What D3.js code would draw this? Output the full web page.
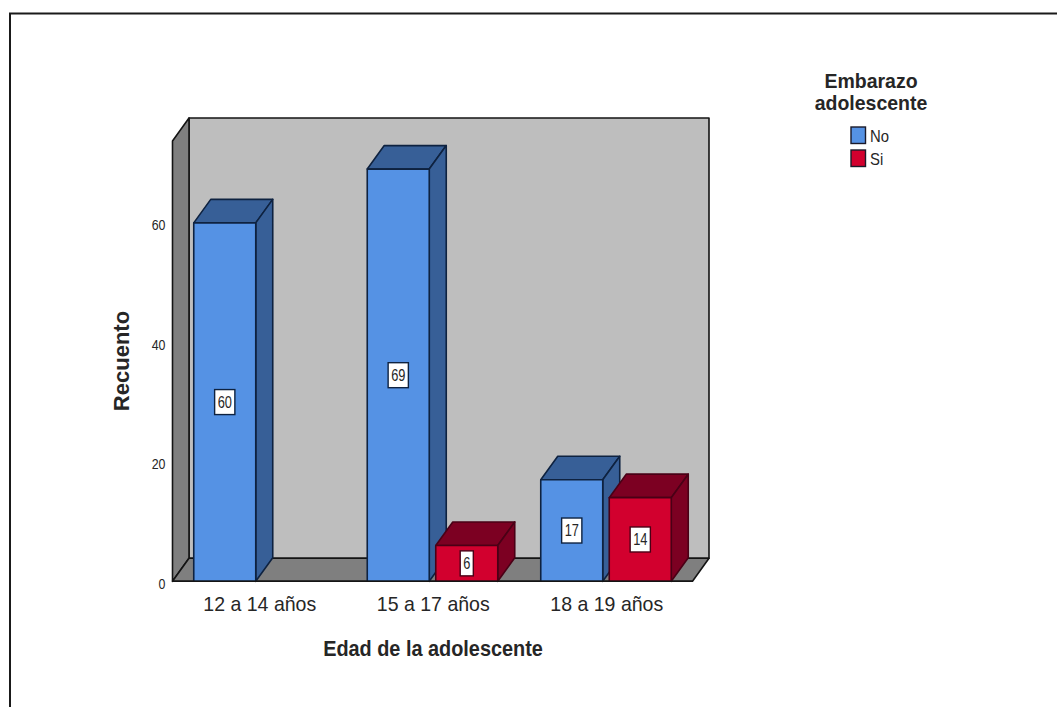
<!DOCTYPE html>
<html>
<head>
<meta charset="utf-8">
<script src="https://cdn.jsdelivr.net/npm/d3@7/dist/d3.min.js"></script>
<style>
html,body{margin:0;padding:0;background:#fff;overflow:hidden}
svg{display:block}
text{font-family:"Liberation Sans",Arial,sans-serif;fill:#262626}
</style>
</head>
<body>
<svg id="chart" width="1057" height="707"></svg>
<script>
// Embarazo adolescente por grupo de edad
const categories = ["12 a 14 años", "15 a 17 años", "18 a 19 años"];
const seriesNames = ["No", "Si"];
const valuesNo = [60, 69, 17];
const valuesSi = [null, 6, 14];
const yTicks = [0, 20, 40, 60];
const yMax = 73.7;

const blue = {front: "#5592E4", side: "#375F97", line: "#0E2240"};
const red = {front: "#D2002E", side: "#7C0022", line: "#4A0016"};
const palette = {No: blue, Si: red};

const svg = d3.select("#chart");

// Narrows text horizontally by a factor, keeping its height
function condense(sel, factor) {
  sel.each(function () {
    this.setAttribute("textLength", this.getComputedTextLength() * factor);
    this.setAttribute("lengthAdjust", "spacingAndGlyphs");
  });
  return sel;
}

// Outer frame: only the top and left edges are visible
svg.append("path").attr("d", "M10,707V13.5H1057")
  .attr("fill", "none").attr("stroke", "#1a1a1a").attr("stroke-width", 2);

const x0 = d3.scaleBand().domain(categories).range([173, 693.5]);
const x1 = d3.scaleBand().domain(seriesNames).range([-66, 64.5]).paddingInner(0.095);
const y = d3.scaleLinear().domain([0, yMax]).range([581.3, 141]);

const wallDx = 16.5, wallDy = -23;
const barDx = 17, barDy = -23.5;
const boxLeft = 172.5, boxRight = 692.5, boxBase = y(0), boxTop = y(yMax);

const poly = pts => "M" + pts.map(p => p.join(",")).join("L") + "Z";
const edge = {stroke: "#141414", "stroke-width": 1.6};
function face(d, fill, line, sw) {
  svg.append("path").attr("d", d).attr("fill", fill)
    .attr("stroke", line).attr("stroke-width", sw).attr("stroke-linejoin", "round");
}

// Chart box: back wall, left wall and floor
face(poly([[boxLeft + wallDx, boxTop + wallDy], [boxRight + wallDx, boxTop + wallDy], [boxRight + wallDx, boxBase + wallDy], [boxLeft + wallDx, boxBase + wallDy]]), "#BEBEBE", edge.stroke, edge["stroke-width"]);
face(poly([[boxLeft, boxTop], [boxLeft + wallDx, boxTop + wallDy], [boxLeft + wallDx, boxBase + wallDy], [boxLeft, boxBase]]), "#7F7F7F", edge.stroke, edge["stroke-width"]);
face(poly([[boxLeft, boxBase], [boxLeft + wallDx, boxBase + wallDy], [boxRight + wallDx, boxBase + wallDy], [boxRight, boxBase]]), "#7F7F7F", edge.stroke, edge["stroke-width"]);

// Bars, back to front from left to right
const rows = [];
categories.forEach((c, i) => {
  rows.push({c, s: "No", v: valuesNo[i]});
  if (valuesSi[i] != null) rows.push({c, s: "Si", v: valuesSi[i]});
});

rows.forEach(r => {
  const xa = x0(r.c) + x0.bandwidth() / 2 + x1(r.s);
  const xb = xa + x1.bandwidth();
  const yt = y(r.v);
  const col = palette[r.s];
  face(poly([[xa, yt], [xa + barDx, yt + barDy], [xb + barDx, yt + barDy], [xb, yt]]), col.side, col.line, 1.6);
  face(poly([[xb, yt], [xb + barDx, yt + barDy], [xb + barDx, boxBase + barDy], [xb, boxBase]]), col.side, col.line, 1.6);
  face(poly([[xa, yt], [xb, yt], [xb, boxBase], [xa, boxBase]]), col.front, col.line, 1.6);
});

// Value labels in white boxes at half the bar height
rows.forEach(r => {
  const cx = x0(r.c) + x0.bandwidth() / 2 + x1(r.s) + x1.bandwidth() / 2;
  const cy = y(r.v / 2);
  const g = svg.append("g");
  const rect = g.append("rect");
  const t = g.append("text").attr("x", cx).attr("y", cy).attr("text-anchor", "middle")
    .attr("dy", "0.36em").attr("font-size", 16).text(r.v);
  const w = t.node().getComputedTextLength() * 0.8 + 6;
  condense(t, 0.8);
  rect.attr("x", cx - w / 2).attr("y", cy - 12.5).attr("width", w).attr("height", 25)
    .attr("fill", "#fff").attr("stroke", palette[r.s].line).attr("stroke-width", 1.4);
});

// Floor's front edge drawn over the bar bases
svg.append("line").attr("x1", boxLeft).attr("x2", boxRight).attr("y1", boxBase).attr("y2", boxBase)
  .attr("stroke", "#141414").attr("stroke-width", 1.6);

// Axes
const yAxis = d3.axisLeft(y).tickValues(yTicks).tickSize(0).tickPadding(7);
const gy = svg.append("g").attr("transform", `translate(${boxLeft},0)`).call(yAxis);
gy.select(".domain").remove();
condense(gy.selectAll("text").attr("font-size", 15.5).attr("dy", "0.46em").style("font-family", "'Liberation Sans'"), 0.8);

const xAxis = d3.axisBottom(x0).tickSize(0).tickPadding(14.5);
const gx = svg.append("g").attr("transform", `translate(0,${boxBase})`).call(xAxis);
gx.select(".domain").remove();
condense(gx.selectAll("text").attr("font-size", 21).style("font-family", "'Liberation Sans'"), 0.93);

// Axis titles
condense(svg.append("text").attr("x", 433).attr("y", 656).attr("text-anchor", "middle")
  .attr("font-size", 22).attr("font-weight", "bold").text("Edad de la adolescente"), 0.903);
svg.append("text").attr("transform", "translate(129,361) rotate(-90)").attr("text-anchor", "middle")
  .attr("font-size", 22).attr("font-weight", "bold").text("Recuento");

// Legend
const legendTitle = ["Embarazo", "adolescente"];
legendTitle.forEach((line, i) => {
  condense(svg.append("text").attr("x", 871).attr("y", 88 + i * 22).attr("text-anchor", "middle")
    .attr("font-size", 20.5).attr("font-weight", "bold").text(line), 0.95);
});
seriesNames.forEach((s, i) => {
  const yy = 127 + i * 23;
  svg.append("rect").attr("x", 851).attr("y", yy).attr("width", 14.5).attr("height", 16.5)
    .attr("fill", palette[s].front).attr("stroke", "#1a1a2a").attr("stroke-width", 1.4);
  condense(svg.append("text").attr("x", 870).attr("y", yy + 14.5).attr("font-size", 16.5).text(s), 0.9);
});
</script>
</body>
</html>
